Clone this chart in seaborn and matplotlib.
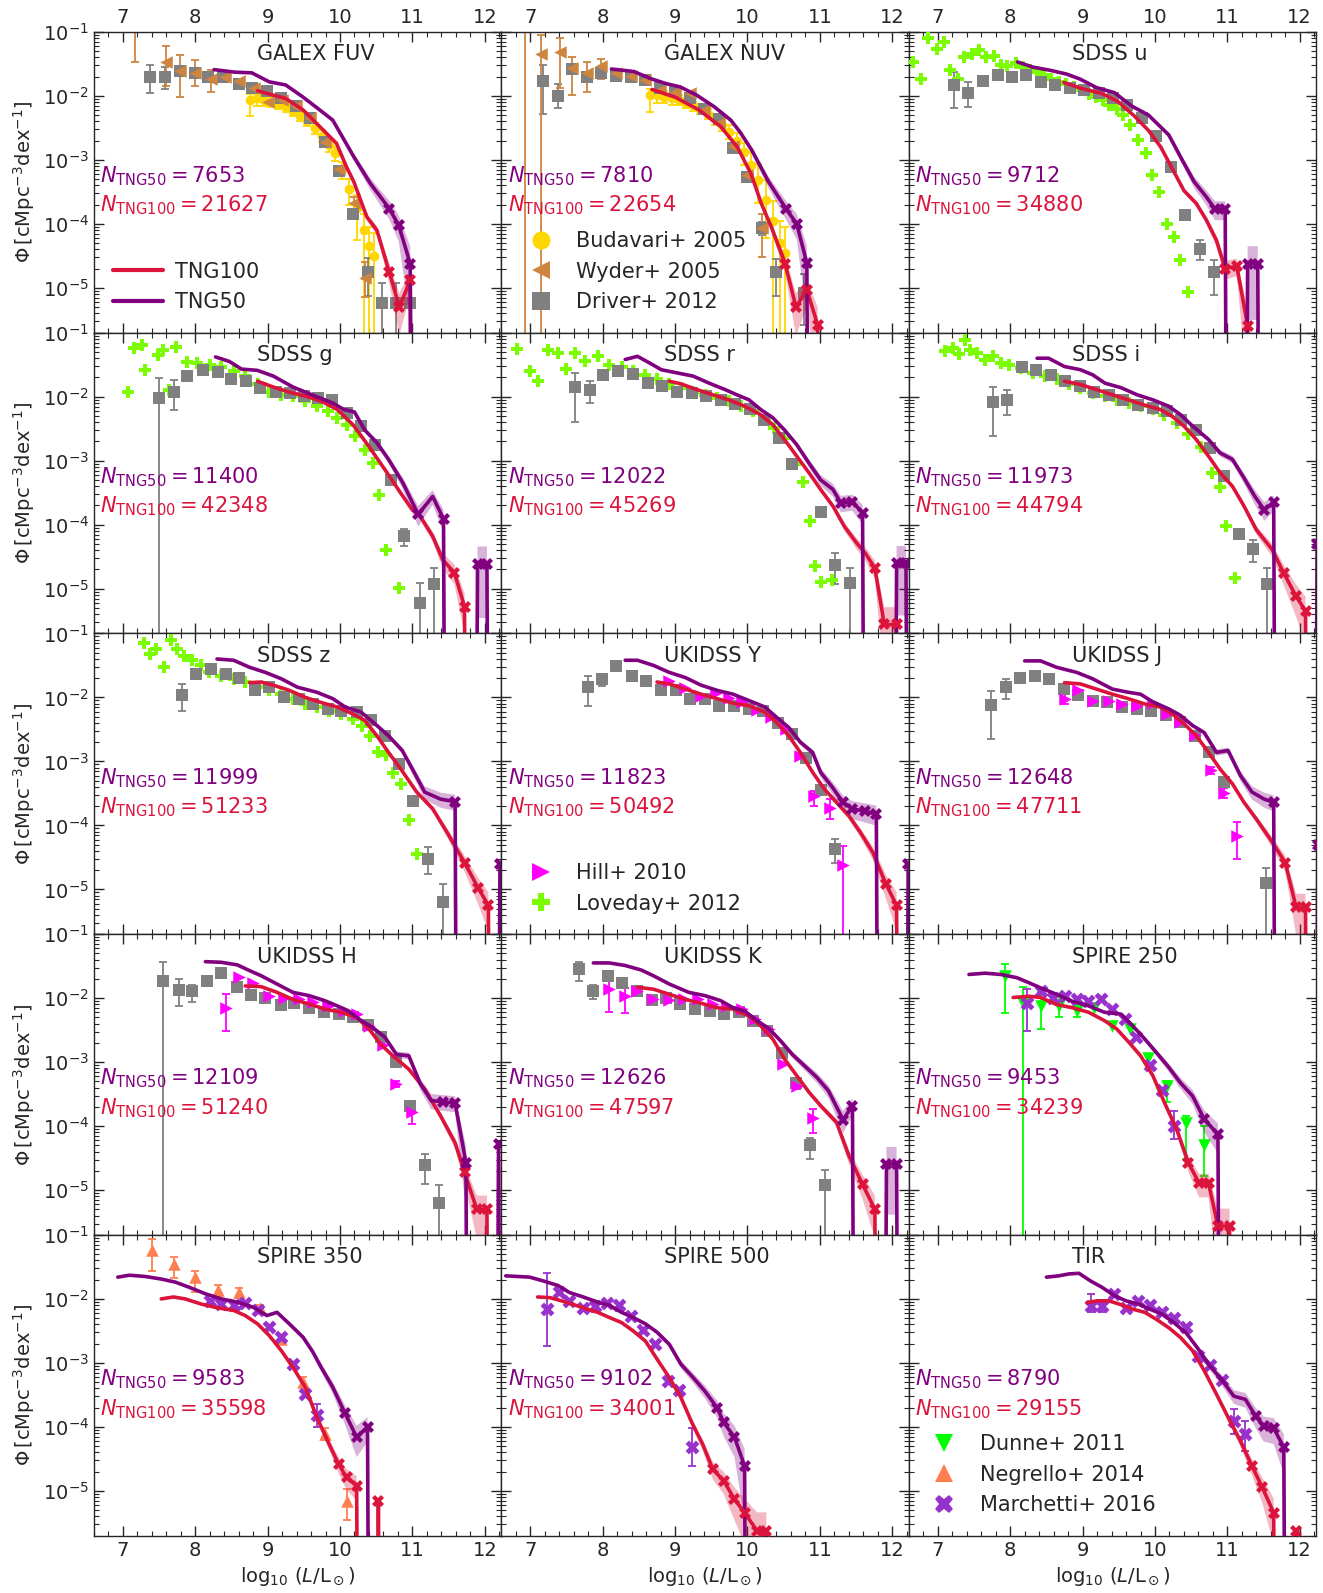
import numpy as np
import matplotlib
matplotlib.use("Agg")
import matplotlib.pyplot as plt
from matplotlib.lines import Line2D
from matplotlib.ticker import LogLocator, MultipleLocator, NullFormatter
import seaborn as sns

sns.set_style("ticks")
plt.rcParams["font.family"] = ["DejaVu Sans"]
plt.rcParams["mathtext.fontset"] = "dejavusans"

# ---------------- data (log10 Phi, None = empty bin) ----------------
bands = ["GALEX FUV", "GALEX NUV", "SDSS u", "SDSS g", "SDSS r", "SDSS i",
         "SDSS z", "UKIDSS Y", "UKIDSS J", "UKIDSS H", "UKIDSS K", "SPIRE 250",
         "SPIRE 350", "SPIRE 500", "TIR"]
n_tng50 = [7653, 7810, 9712, 11400, 12022, 11973, 11999, 11823, 12648, 12109,
           12626, 9453, 9583, 9102, 8790]
n_tng100 = [21627, 22654, 34880, 42348, 45269, 44794, 51233, 50492, 47711, 51240,
            47597, 34239, 35598, 34001, 29155]

fuv50_x = [8.26, 8.55, 8.78, 9.02, 9.25, 9.49, 9.72, 9.9, 10.19, 10.42, 10.68, 10.81, 10.97, 11.12]
fuv50 = [-1.59, -1.63, -1.64, -1.78, -1.83, -2.02, -2.22, -2.38, -2.95, -3.37, -3.76, -4.02, -4.62, None]
fuv100_x = [8.86, 9.05, 9.25, 9.49, 9.72, 9.95, 10.09, 10.19, 10.37, 10.51, 10.68, 10.82, 10.97, 11.12]
fuv100 = [-1.92, -1.98, -2.04, -2.22, -2.48, -2.74, -3.11, -3.34, -3.89, -4.1, -4.75, -5.3, -4.88, None]

nuv50_x = [8.12, 8.43, 8.66, 8.88, 9.07, 9.3, 9.54, 9.77, 9.9, 10.06, 10.29, 10.53, 10.68, 10.82, 10.97]
nuv50 = [-1.58, -1.62, -1.73, -1.81, -1.86, -1.99, -2.17, -2.38, -2.57, -2.85, -3.34, -3.76, -4.0, -4.61, None]
nuv100_x = [8.68, 9.0, 9.33, 9.63, 9.86, 10.05, 10.19, 10.33, 10.52, 10.67, 10.82, 10.97, 11.12]
nuv100 = [-1.9, -2.02, -2.22, -2.48, -2.8, -3.22, -3.68, -4.05, -4.62, -5.3, -5.03, -5.58, None]

u50_x = [8.1, 8.31, 8.55, 8.78, 8.97, 9.19, 9.44, 9.68, 9.91, 10.19, 10.38, 10.54, 10.71, 10.83, 10.97, 11.12, 11.28, 11.42, 11.57]
u50 = [-1.47, -1.55, -1.6, -1.66, -1.74, -1.87, -1.95, -2.16, -2.3, -2.61, -3.01, -3.34, -3.58, -3.77, -3.77, None, -4.62, -4.62, None]
u100_x = [8.74, 9.0, 9.26, 9.49, 9.72, 9.91, 10.08, 10.24, 10.4, 10.57, 10.71, 10.85, 10.97, 11.13, 11.28, 11.43]
u100 = [-1.79, -1.89, -1.96, -2.09, -2.32, -2.54, -2.8, -3.14, -3.48, -3.68, -3.94, -4.26, -4.7, -4.66, -5.59, None]

g50_x = [8.28, 8.47, 8.64, 8.86, 9.08, 9.35, 9.63, 9.9, 10.05, 10.2, 10.34, 10.51, 10.67, 10.87, 11.08, 11.28, 11.43, 11.58, 11.73, 11.9, 12.03, 12.18]
g50 = [-1.38, -1.45, -1.57, -1.59, -1.68, -1.85, -1.98, -2.1, -2.2, -2.24, -2.52, -2.72, -2.98, -3.35, -3.84, -3.56, -3.91, None, None, -4.61, -4.61, None]
g100_x = [8.86, 9.08, 9.3, 9.52, 9.74, 9.96, 10.18, 10.4, 10.62, 10.84, 11.0, 11.08, 11.28, 11.42, 11.58, 11.72, 11.87]
g100 = [-1.76, -1.85, -1.93, -1.99, -2.07, -2.2, -2.44, -2.78, -3.14, -3.51, -3.77, -3.82, -4.18, -4.55, -4.75, -5.28, None]

r50_x = [8.31, 8.48, 8.64, 8.81, 9.03, 9.25, 9.47, 9.69, 9.85, 10.02, 10.18, 10.35, 10.51, 10.68, 10.85, 11.01, 11.18, 11.29, 11.45, 11.59, 11.74, 11.9, 12.06, 12.19, 12.34]
r50 = [-1.42, -1.37, -1.47, -1.58, -1.63, -1.68, -1.79, -1.89, -1.97, -2.05, -2.2, -2.33, -2.52, -2.75, -3.04, -3.3, -3.45, -3.66, -3.64, -3.82, None, None, -4.6, -4.6, None]
r100_x = [8.92, 9.08, 9.3, 9.52, 9.74, 9.96, 10.18, 10.35, 10.51, 10.68, 10.85, 11.01, 11.18, 11.34, 11.51, 11.63, 11.76, 11.89, 12.06, 12.2]
r100 = [-1.76, -1.8, -1.89, -1.97, -2.05, -2.15, -2.28, -2.44, -2.67, -2.93, -3.19, -3.45, -3.71, -4.03, -4.29, -4.45, -4.68, -5.56, -5.56, None]

i50_x = [8.37, 8.53, 8.75, 8.97, 9.14, 9.31, 9.53, 9.75, 9.97, 10.19, 10.35, 10.52, 10.74, 10.9, 11.07, 11.23, 11.38, 11.51, 11.64, 11.79, 11.94, 12.09, 12.24]
i50 = [-1.4, -1.4, -1.53, -1.58, -1.66, -1.79, -1.86, -1.97, -2.05, -2.15, -2.28, -2.46, -2.67, -2.88, -2.98, -3.27, -3.56, -3.77, -3.65, None, None, None, -4.31]
i100_x = [8.75, 8.97, 9.19, 9.41, 9.63, 9.85, 10.07, 10.24, 10.4, 10.57, 10.74, 10.9, 11.07, 11.23, 11.4, 11.62, 11.78, 11.95, 12.08, 12.22]
i100 = [-1.76, -1.81, -1.89, -1.97, -2.05, -2.13, -2.2, -2.31, -2.46, -2.67, -2.93, -3.19, -3.4, -3.71, -4.08, -4.39, -4.76, -5.12, -5.35, None]

z50_x = [8.3, 8.53, 8.75, 8.97, 9.19, 9.41, 9.68, 9.9, 10.07, 10.29, 10.51, 10.67, 10.86, 11.0, 11.17, 11.39, 11.59, 11.74, 11.89, 12.04, 12.21]
z50 = [-1.4, -1.42, -1.53, -1.61, -1.71, -1.84, -1.92, -2.02, -2.15, -2.23, -2.44, -2.6, -2.83, -3.12, -3.48, -3.59, -3.63, None, None, None, -4.6]
z100_x = [8.75, 8.91, 9.08, 9.3, 9.52, 9.74, 9.96, 10.18, 10.34, 10.51, 10.67, 10.84, 11.06, 11.28, 11.48, 11.72, 11.91, 12.05, 12.2]
z100 = [-1.77, -1.76, -1.81, -1.89, -2.0, -2.08, -2.15, -2.26, -2.36, -2.6, -2.86, -3.12, -3.48, -3.74, -4.11, -4.58, -4.98, -5.25, None]

y50_x = [8.31, 8.48, 8.7, 8.92, 9.14, 9.36, 9.58, 9.8, 10.02, 10.24, 10.4, 10.57, 10.73, 10.9, 11.01, 11.17, 11.32, 11.45, 11.62, 11.78, 11.93, 12.08, 12.22]
y50 = [-1.42, -1.42, -1.5, -1.61, -1.69, -1.81, -1.89, -1.95, -2.05, -2.15, -2.31, -2.47, -2.7, -2.86, -3.17, -3.4, -3.64, -3.74, -3.78, -3.82, None, None, -4.6]
y100_x = [8.75, 8.92, 9.14, 9.36, 9.58, 9.8, 10.02, 10.24, 10.4, 10.57, 10.73, 10.9, 11.06, 11.23, 11.4, 11.56, 11.73, 11.91, 12.06, 12.2]
y100 = [-1.76, -1.79, -1.87, -1.95, -2.02, -2.09, -2.13, -2.23, -2.39, -2.6, -2.86, -3.17, -3.43, -3.64, -3.85, -4.11, -4.42, -4.91, -5.25, None]

j50_x = [8.2, 8.42, 8.64, 8.92, 9.14, 9.41, 9.63, 9.8, 9.97, 10.19, 10.35, 10.52, 10.68, 10.85, 11.01, 11.18, 11.34, 11.51, 11.64, 11.79, 11.94, 12.09, 12.25]
j50 = [-1.43, -1.43, -1.53, -1.61, -1.71, -1.87, -1.92, -1.95, -2.07, -2.18, -2.28, -2.44, -2.55, -2.86, -2.83, -3.22, -3.48, -3.59, -3.64, None, None, None, -4.3]
j100_x = [8.75, 8.97, 9.19, 9.41, 9.63, 9.85, 10.07, 10.24, 10.4, 10.57, 10.74, 10.9, 11.07, 11.23, 11.4, 11.62, 11.8, 11.95, 12.08, 12.22]
j100 = [-1.77, -1.79, -1.87, -1.95, -2.02, -2.1, -2.15, -2.26, -2.41, -2.6, -2.86, -3.12, -3.35, -3.64, -3.9, -4.26, -4.58, -5.28, -5.28, None]

h50_x = [8.14, 8.36, 8.58, 8.75, 8.91, 9.13, 9.35, 9.57, 9.79, 9.96, 10.12, 10.29, 10.45, 10.62, 10.78, 10.95, 11.11, 11.26, 11.42, 11.59, 11.74, 11.89, 12.04, 12.19, 12.34]
h50 = [-1.43, -1.44, -1.48, -1.57, -1.65, -1.78, -1.91, -1.96, -2.04, -2.12, -2.2, -2.35, -2.46, -2.61, -2.88, -2.9, -3.34, -3.6, -3.62, -3.64, -4.57, None, None, -4.28, None]
h100_x = [8.69, 8.91, 9.13, 9.35, 9.57, 9.79, 10.01, 10.23, 10.4, 10.56, 10.73, 10.95, 11.17, 11.39, 11.59, 11.72, 11.89, 12.03, 12.18]
h100 = [-1.81, -1.82, -1.91, -2.02, -2.09, -2.17, -2.22, -2.3, -2.48, -2.72, -2.9, -3.11, -3.42, -3.84, -4.26, -4.72, -5.3, -5.3, None]

k50_x = [7.87, 8.09, 8.31, 8.53, 8.7, 8.92, 9.19, 9.41, 9.63, 9.8, 9.96, 10.13, 10.3, 10.46, 10.62, 10.79, 10.96, 11.12, 11.32, 11.45, 11.6, 11.76, 11.92, 12.06, 12.21]
k50 = [-1.45, -1.45, -1.49, -1.56, -1.65, -1.78, -1.91, -1.96, -2.04, -2.15, -2.2, -2.35, -2.48, -2.67, -2.88, -3.06, -3.24, -3.45, -3.9, -3.68, None, None, -4.59, -4.59, None]
k100_x = [8.48, 8.7, 8.92, 9.14, 9.36, 9.58, 9.8, 10.02, 10.18, 10.35, 10.51, 10.68, 10.85, 11.01, 11.23, 11.4, 11.59, 11.76, 11.92]
k100 = [-1.83, -1.86, -1.94, -2.02, -2.08, -2.15, -2.17, -2.28, -2.43, -2.64, -2.95, -3.21, -3.47, -3.68, -3.94, -4.46, -4.91, -5.3, None]

s250_50_x = [7.43, 7.65, 7.87, 8.09, 8.26, 8.42, 8.64, 8.86, 9.08, 9.3, 9.53, 9.69, 9.86, 10.02, 10.19, 10.35, 10.52, 10.68, 10.87, 11.02]
s250_50 = [-1.63, -1.61, -1.63, -1.68, -1.76, -1.84, -1.94, -2.05, -2.12, -2.22, -2.25, -2.43, -2.64, -2.85, -3.08, -3.32, -3.53, -3.89, -4.13, None]
s250_100_x = [8.04, 8.26, 8.42, 8.64, 8.86, 9.08, 9.3, 9.47, 9.64, 9.8, 9.97, 10.13, 10.3, 10.46, 10.61, 10.74, 10.87, 11.03, 11.18]
s250_100 = [-1.99, -1.97, -1.99, -2.1, -2.15, -2.22, -2.35, -2.48, -2.69, -2.9, -3.21, -3.63, -4.05, -4.57, -4.89, -4.89, -5.56, -5.56, None]

s350_50_x = [6.93, 7.09, 7.31, 7.53, 7.73, 7.92, 8.14, 8.36, 8.58, 8.8, 8.99, 9.13, 9.3, 9.49, 9.62, 9.74, 9.9, 10.07, 10.23, 10.38, 10.53]
s350_50 = [-1.66, -1.63, -1.65, -1.69, -1.74, -1.82, -1.92, -2.0, -2.05, -2.13, -2.26, -2.21, -2.39, -2.6, -2.82, -3.07, -3.38, -3.79, -4.16, -4.0, None]
s350_100_x = [7.53, 7.7, 7.86, 8.08, 8.31, 8.53, 8.69, 8.86, 9.02, 9.19, 9.35, 9.52, 9.68, 9.85, 9.98, 10.09, 10.23, 10.38, 10.53, 10.68]
s350_100 = [-2.0, -1.97, -2.0, -2.08, -2.14, -2.18, -2.26, -2.39, -2.57, -2.81, -3.07, -3.38, -3.85, -4.27, -4.58, -4.79, -4.92, None, -5.15, None]

s500_50_x = [6.66, 6.83, 6.99, 7.18, 7.38, 7.54, 7.73, 7.93, 8.09, 8.26, 8.42, 8.59, 8.75, 8.92, 9.08, 9.25, 9.41, 9.58, 9.67, 9.82, 9.96, 10.11]
s500_50 = [-1.64, -1.65, -1.66, -1.72, -1.79, -1.9, -1.97, -2.05, -2.1, -2.21, -2.29, -2.39, -2.52, -2.71, -3.02, -3.23, -3.44, -3.7, -3.93, -4.16, -4.61, None]
s500_100_x = [7.1, 7.27, 7.43, 7.6, 7.76, 7.93, 8.09, 8.26, 8.42, 8.59, 8.75, 8.92, 9.08, 9.23, 9.38, 9.52, 9.67, 9.82, 9.96, 10.13, 10.26, 10.41]
s500_100 = [-1.97, -1.98, -2.03, -2.09, -2.15, -2.21, -2.29, -2.37, -2.5, -2.66, -2.94, -3.23, -3.54, -3.93, -4.27, -4.66, -4.84, -5.13, -5.34, -5.62, -5.62, None]

tir50_x = [8.5, 8.67, 8.81, 8.95, 9.11, 9.27, 9.44, 9.6, 9.77, 9.93, 10.1, 10.26, 10.43, 10.59, 10.76, 10.92, 11.09, 11.25, 11.39, 11.5, 11.64, 11.78, 11.93]
tir50 = [-1.66, -1.64, -1.61, -1.6, -1.72, -1.82, -1.95, -2.03, -2.08, -2.16, -2.24, -2.37, -2.53, -2.77, -3.05, -3.26, -3.52, -3.57, -3.83, -3.99, -4.02, -4.32, None]
tir100_x = [9.06, 9.2, 9.36, 9.53, 9.69, 9.86, 10.02, 10.19, 10.35, 10.52, 10.68, 10.85, 11.01, 11.18, 11.34, 11.48, 11.64, 11.79, 11.95, 12.1]
tir100 = [-2.06, -2.03, -2.03, -2.09, -2.16, -2.21, -2.32, -2.45, -2.6, -2.81, -3.12, -3.49, -3.85, -4.22, -4.61, -4.94, -5.34, None, -5.63, None]

# observations: (log L, log Phi, err down [dex], err up [dex])
fuv_budavari = [(8.76, -2.07, 0.25, 0.1), (8.85, -2.04, 0.12, 0.08), (8.95, -2.06, 0.1, 0.08), (9.05, -2.1, 0.08, 0.08),
                (9.15, -2.12, 0.08, 0.07), (9.25, -2.17, 0.08, 0.06), (9.35, -2.24, 0.08, 0.06), (9.45, -2.31, 0.08, 0.06),
                (9.55, -2.39, 0.08, 0.07), (9.65, -2.5, 0.1, 0.08), (9.75, -2.62, 0.1, 0.09), (9.85, -2.76, 0.12, 0.1),
                (9.93, -2.9, 0.12, 0.1), (10.03, -3.15, 0.15, 0.12), (10.13, -3.45, 0.25, 0.15), (10.23, -3.75, 0.5, 0.2),
                (10.33, -4.1, 9, 0.25), (10.4, -4.35, 9, 0.3), (10.47, -4.5, 9, 0.35)]
fuv_wyder = [(7.17, -0.7, 0.77, 0.5), (7.6, -1.47, 0.37, 0.25), (7.79, -1.61, 0.4, 0.25), (7.99, -1.64, 0.2, 0.2),
             (8.22, -1.74, 0.2, 0.15), (8.41, -1.71, 0.05, 0.05), (8.61, -1.76, 0, 0), (8.81, -1.87, 0, 0),
             (9.0, -2.09, 0, 0), (9.2, -2.07, 0, 0), (9.39, -2.16, 0, 0), (9.59, -2.35, 0, 0), (9.79, -2.72, 0, 0),
             (9.99, -3.14, 0, 0), (10.19, -3.68, 0.1, 0.1), (10.35, -4.85, 0.3, 0.25)]
fuv_driver = [(7.38, -1.71, 0.25, 0.2), (7.58, -1.70, 0.2, 0.15), (7.79, -1.61, 0.05, 0.05), (7.99, -1.64, 0, 0),
              (8.18, -1.70, 0, 0), (8.39, -1.71, 0, 0), (8.6, -1.82, 0, 0), (8.79, -1.87, 0, 0), (8.99, -1.92, 0, 0),
              (9.19, -2.03, 0, 0), (9.39, -2.16, 0, 0), (9.58, -2.35, 0, 0), (9.79, -2.72, 0, 0), (9.99, -3.17, 0, 0),
              (10.18, -3.84, 0.05, 0.05), (10.38, -4.75, 0.38, 0.21), (10.58, -5.23, 9, 0.3), (10.78, -5.23, 9, 0.3),
              (10.97, -5.23, 9, 0.3)]

nuv_budavari = [(8.65, -1.99, 0.26, 0.1), (8.75, -1.99, 0.12, 0.08), (8.85, -2.01, 0.1, 0.08), (8.95, -2.04, 0.1, 0.08),
                (9.05, -2.07, 0.08, 0.08), (9.15, -2.11, 0.08, 0.07), (9.25, -2.15, 0.08, 0.06), (9.35, -2.21, 0.08, 0.06),
                (9.45, -2.28, 0.08, 0.07), (9.55, -2.36, 0.1, 0.08), (9.65, -2.45, 0.1, 0.09), (9.75, -2.56, 0.12, 0.1),
                (9.85, -2.7, 0.15, 0.12), (9.95, -2.88, 0.2, 0.15), (10.05, -3.08, 0.25, 0.2), (10.15, -3.32, 0.35, 0.25),
                (10.25, -3.62, 0.6, 0.3), (10.35, -3.95, 9, 0.3), (10.45, -4.3, 9, 0.35), (10.52, -4.45, 9, 0.4)]
nuv_wyder = [(6.92, -0.8, 9, 0.5), (7.15, -1.35, 9, 0.3), (7.41, -1.31, 0.56, 0.22), (7.58, -1.57, 0.42, 0.18),
             (7.78, -1.64, 0.3, 0.17), (7.98, -1.54, 0.19, 0.11), (8.19, -1.65, 0, 0), (8.39, -1.69, 0, 0),
             (8.59, -1.75, 0, 0), (8.79, -1.91, 0, 0), (9.0, -1.94, 0, 0), (9.2, -1.96, 0, 0), (9.4, -2.22, 0, 0),
             (9.6, -2.43, 0, 0), (9.8, -2.79, 0, 0), (10.0, -3.24, 0, 0), (10.2, -4.07, 0.44, 0.23)]
nuv_driver = [(7.17, -1.76, 0.53, 0.24), (7.38, -2.0, 0.19, 0.19), (7.58, -1.58, 0, 0), (7.78, -1.70, 0, 0),
              (7.98, -1.65, 0, 0), (8.19, -1.69, 0, 0), (8.39, -1.71, 0, 0), (8.59, -1.75, 0, 0), (8.79, -1.87, 0, 0),
              (9.0, -1.92, 0, 0), (9.2, -2.04, 0, 0), (9.4, -2.2, 0, 0), (9.6, -2.36, 0, 0), (9.8, -2.81, 0, 0),
              (10.0, -3.26, 0, 0), (10.2, -4.07, 0.1, 0.1), (10.4, -4.75, 0.38, 0.2), (10.78, -5.08, 0.5, 0.3)]

u_loveday = [(6.66, -1.47), (6.77, -1.74), (6.86, -1.09), (6.99, -1.26), (7.08, -1.16), (7.17, -1.6), (7.28, -1.74),
             (7.36, -1.39), (7.47, -1.35), (7.57, -1.29), (7.67, -1.4), (7.78, -1.38), (7.87, -1.52), (7.96, -1.53),
             (8.08, -1.49), (8.17, -1.55), (8.27, -1.6), (8.37, -1.62), (8.47, -1.68), (8.56, -1.73), (8.67, -1.78),
             (8.77, -1.81), (8.88, -1.86), (8.99, -1.91), (9.09, -1.97), (9.19, -2.01), (9.28, -2.07), (9.37, -2.15),
             (9.47, -2.21), (9.56, -2.3), (9.66, -2.46), (9.77, -2.69), (9.87, -2.9), (9.96, -3.24), (10.06, -3.5),
             (10.16, -4.0), (10.26, -4.21), (10.35, -4.56), (10.46, -5.07)]
u_driver = [(7.23, -1.83, 0.36, 0.21), (7.42, -1.95, 0.22, 0.17), (7.63, -1.76, 0, 0), (7.83, -1.68, 0, 0),
            (8.02, -1.71, 0, 0), (8.22, -1.68, 0, 0), (8.42, -1.78, 0, 0), (8.62, -1.83, 0, 0), (8.83, -1.88, 0, 0),
            (9.02, -1.91, 0, 0), (9.22, -1.96, 0, 0), (9.42, -2.03, 0, 0), (9.62, -2.14, 0, 0), (9.82, -2.34, 0, 0),
            (10.02, -2.63, 0, 0), (10.22, -3.11, 0, 0), (10.42, -3.86, 0.05, 0.05), (10.62, -4.39, 0.18, 0.14),
            (10.82, -4.75, 0.36, 0.19)]

g_loveday = [(7.07, -1.93), (7.15, -1.24), (7.26, -1.19), (7.31, -1.58), (7.48, -1.35), (7.56, -1.27), (7.64, -1.89),
             (7.73, -1.22), (7.89, -1.46), (8.03, -1.47), (8.2, -1.5), (8.36, -1.53), (8.53, -1.6), (8.69, -1.68),
             (8.86, -1.81), (9.02, -1.92), (9.19, -1.97), (9.35, -1.99), (9.52, -2.07), (9.68, -2.15), (9.83, -2.23),
             (9.96, -2.33), (10.09, -2.44), (10.21, -2.62), (10.34, -2.83), (10.45, -3.04), (10.54, -3.53),
             (10.64, -4.39), (10.81, -4.99)]
g_driver = [(7.5, -2.02, 9, 0.31), (7.7, -1.92, 0.29, 0.18), (7.89, -1.68, 0, 0), (8.11, -1.59, 0, 0),
            (8.31, -1.62, 0, 0), (8.5, -1.73, 0, 0), (8.7, -1.76, 0, 0), (8.9, -1.86, 0, 0), (9.11, -1.92, 0, 0),
            (9.31, -1.95, 0, 0), (9.5, -1.99, 0, 0), (9.69, -2.02, 0, 0), (9.89, -2.06, 0, 0), (10.09, -2.26, 0, 0),
            (10.29, -2.46, 0, 0), (10.49, -2.75, 0, 0), (10.7, -3.3, 0, 0), (10.89, -4.18, 0.16, 0.11),
            (11.1, -5.22, 9, 0.31), (11.3, -4.92, 9, 0.24)]

r_loveday = [(6.82, -1.26), (6.99, -1.6), (7.1, -1.76), (7.24, -1.27), (7.38, -1.32), (7.49, -1.57), (7.62, -1.32),
             (7.76, -1.45), (7.93, -1.37), (8.09, -1.5), (8.26, -1.53), (8.42, -1.6), (8.59, -1.66), (8.75, -1.73),
             (8.92, -1.81), (9.08, -1.86), (9.25, -1.92), (9.41, -1.97), (9.58, -2.02), (9.74, -2.07), (9.91, -2.15),
             (10.07, -2.23), (10.24, -2.36), (10.37, -2.49), (10.51, -2.65), (10.65, -3.05), (10.76, -3.33),
             (10.87, -3.95), (10.93, -4.64), (11.01, -4.9), (11.17, -4.87)]
r_driver = [(7.62, -1.85, 0.54, 0.22), (7.82, -1.9, 0.2, 0.14), (8.01, -1.66, 0, 0), (8.21, -1.6, 0, 0),
            (8.42, -1.64, 0, 0), (8.62, -1.78, 0, 0), (8.82, -1.83, 0, 0), (9.03, -1.92, 0, 0), (9.23, -1.94, 0, 0),
            (9.42, -1.99, 0, 0), (9.63, -2.05, 0, 0), (9.83, -2.11, 0, 0), (10.03, -2.2, 0, 0), (10.23, -2.37, 0, 0),
            (10.43, -2.65, 0, 0), (10.62, -3.05, 0, 0), (11.01, -3.8, 0, 0), (11.21, -4.63, 0.29, 0.18),
            (11.42, -4.91, 9, 0.23)]

i_loveday = [(7.1, -1.29), (7.21, -1.24), (7.29, -1.34), (7.38, -1.11), (7.45, -1.27), (7.54, -1.32), (7.65, -1.42),
             (7.76, -1.37), (7.87, -1.47), (7.98, -1.5), (8.15, -1.55), (8.31, -1.63), (8.48, -1.68), (8.64, -1.73),
             (8.81, -1.81), (8.97, -1.86), (9.14, -1.94), (9.31, -1.99), (9.47, -2.05), (9.64, -2.1), (9.8, -2.15),
             (9.97, -2.2), (10.13, -2.28), (10.3, -2.41), (10.46, -2.59), (10.63, -2.78), (10.79, -3.19),
             (10.9, -3.41), (10.98, -4.02), (11.1, -4.83)]
i_driver = [(7.76, -2.09, 0.53, 0.24), (7.96, -2.05, 0.23, 0.15), (8.16, -1.54, 0, 0), (8.36, -1.58, 0, 0),
            (8.56, -1.66, 0, 0), (8.75, -1.76, 0, 0), (8.96, -1.84, 0, 0), (9.16, -1.92, 0, 0), (9.36, -1.97, 0, 0),
            (9.56, -2.05, 0, 0), (9.76, -2.13, 0, 0), (9.97, -2.18, 0, 0), (10.16, -2.23, 0, 0), (10.36, -2.36, 0, 0),
            (10.56, -2.52, 0, 0), (10.76, -2.8, 0, 0), (10.96, -3.24, 0, 0), (11.16, -4.14, 0.07, 0.07),
            (11.35, -4.38, 0.2, 0.14), (11.55, -4.92, 9, 0.24)]

z_loveday = [(7.29, -1.15), (7.37, -1.32), (7.46, -1.25), (7.57, -1.53), (7.67, -1.11), (7.75, -1.24), (7.84, -1.35),
             (7.95, -1.41), (8.08, -1.5), (8.19, -1.61), (8.36, -1.66), (8.53, -1.71), (8.69, -1.76), (8.86, -1.84),
             (9.02, -1.89), (9.19, -1.95), (9.35, -2.02), (9.52, -2.1), (9.68, -2.15), (9.85, -2.21), (10.01, -2.26),
             (10.18, -2.34), (10.31, -2.44), (10.42, -2.6), (10.53, -2.86), (10.64, -2.9), (10.73, -3.18),
             (10.84, -3.35), (10.95, -3.91), (11.06, -4.45)]
z_driver = [(7.81, -1.96, 0.25, 0.17), (8.01, -1.63, 0, 0), (8.22, -1.55, 0, 0), (8.42, -1.63, 0, 0),
            (8.61, -1.7, 0, 0), (8.82, -1.88, 0, 0), (9.02, -1.84, 0, 0), (9.22, -2.0, 0, 0), (9.43, -2.02, 0, 0),
            (9.63, -2.1, 0, 0), (9.83, -2.18, 0, 0), (10.02, -2.21, 0, 0), (10.23, -2.23, 0, 0), (10.43, -2.36, 0, 0),
            (10.62, -2.6, 0, 0), (10.82, -3.04, 0, 0), (11.01, -3.62, 0, 0), (11.22, -4.52, 0.24, 0.18),
            (11.42, -5.2, 9, 0.29)]

y_driver = [(7.8, -1.83, 0.3, 0.17), (7.99, -1.72, 0.1, 0.06), (8.19, -1.51, 0, 0), (8.4, -1.66, 0, 0),
            (8.6, -1.75, 0, 0), (8.81, -1.89, 0, 0), (9.01, -1.89, 0, 0), (9.2, -2.02, 0, 0), (9.41, -2.03, 0, 0),
            (9.61, -2.13, 0, 0), (9.81, -2.14, 0, 0), (10.02, -2.18, 0, 0), (10.22, -2.21, 0, 0), (10.42, -2.4, 0, 0),
            (10.61, -2.57, 0, 0), (10.81, -2.95, 0, 0), (11.01, -3.44, 0, 0), (11.21, -4.37, 0.21, 0.15)]
y_hill = [(8.92, -1.74, 0, 0), (9.14, -1.85, 0, 0), (9.36, -1.98, 0, 0), (9.56, -1.93, 0, 0), (9.74, -2.01, 0, 0),
          (9.93, -2.07, 0, 0), (10.13, -2.2, 0, 0), (10.33, -2.3, 0, 0), (10.53, -2.49, 0, 0), (10.73, -2.91, 0, 0),
          (10.92, -3.54, 0.15, 0.08), (11.14, -3.73, 0.17, 0.15), (11.32, -4.62, 9, 0.3)]

j_driver = [(7.74, -2.12, 0.53, 0.22), (7.94, -1.83, 0.2, 0.11), (8.14, -1.69, 0, 0), (8.34, -1.66, 0, 0),
            (8.53, -1.71, 0, 0), (8.74, -1.87, 0, 0), (8.94, -1.97, 0, 0), (9.14, -2.05, 0, 0), (9.34, -2.07, 0, 0),
            (9.55, -2.15, 0, 0), (9.75, -2.18, 0, 0), (9.94, -2.22, 0, 0), (10.15, -2.27, 0, 0), (10.35, -2.38, 0, 0),
            (10.55, -2.6, 0, 0), (10.75, -2.85, 0, 0), (10.95, -3.32, 0, 0), (11.54, -4.9, 9, 0.23)]
j_hill = [(8.75, -2.02, 0.08, 0.08), (8.94, -1.89, 0, 0), (9.14, -2.06, 0.06, 0.06), (9.36, -2.05, 0, 0),
          (9.55, -2.1, 0, 0), (9.75, -2.13, 0, 0), (9.97, -2.09, 0, 0), (10.16, -2.26, 0, 0), (10.35, -2.38, 0, 0),
          (10.55, -2.59, 0, 0), (10.77, -3.14, 0.05, 0.05), (10.96, -3.49, 0.08, 0.08), (11.14, -4.17, 0.35, 0.22)]

h_driver = [(7.56, -1.74, 9, 0.31), (7.78, -1.87, 0.26, 0.17), (7.95, -1.89, 0.17, 0.1), (8.16, -1.73, 0, 0),
            (8.36, -1.61, 0, 0), (8.57, -1.83, 0, 0), (8.77, -1.95, 0, 0), (8.97, -1.99, 0, 0), (9.18, -2.11, 0, 0),
            (9.37, -2.07, 0, 0), (9.57, -2.16, 0, 0), (9.78, -2.21, 0, 0), (9.98, -2.25, 0, 0), (10.18, -2.29, 0, 0),
            (10.38, -2.42, 0, 0), (10.57, -2.6, 0, 0), (10.77, -2.99, 0, 0), (10.97, -3.68, 0, 0),
            (11.17, -4.61, 0.3, 0.17), (11.37, -5.2, 9, 0.28)]
h_hill = [(8.42, -2.15, 0.36, 0.22), (8.61, -1.67, 0, 0), (8.8, -1.76, 0, 0), (9.02, -1.96, 0, 0), (9.22, -1.99, 0, 0),
          (9.43, -2.02, 0, 0), (9.63, -2.06, 0, 0), (9.83, -2.12, 0, 0), (10.05, -2.2, 0, 0), (10.23, -2.25, 0, 0),
          (10.4, -2.43, 0, 0), (10.6, -2.73, 0, 0), (10.78, -3.34, 0.05, 0.05), (11.0, -3.78, 0.19, 0.09)]

k_driver = [(7.67, -1.55, 0.18, 0.11), (7.87, -1.89, 0.13, 0.1), (8.07, -1.65, 0, 0), (8.27, -1.76, 0, 0),
            (8.48, -1.89, 0, 0), (8.68, -2.03, 0, 0), (8.88, -1.99, 0, 0), (9.07, -2.09, 0, 0), (9.28, -2.17, 0, 0),
            (9.48, -2.2, 0, 0), (9.68, -2.25, 0, 0), (9.88, -2.22, 0, 0), (10.07, -2.35, 0, 0), (10.27, -2.51, 0, 0),
            (10.47, -2.86, 0, 0), (10.67, -3.33, 0, 0), (10.87, -4.3, 0.22, 0.12), (11.07, -4.92, 9, 0.23)]
k_hill = [(8.09, -1.86, 0.36, 0.15), (8.31, -1.97, 0.26, 0.13), (8.48, -1.89, 0, 0), (8.7, -2.02, 0, 0),
          (8.92, -2.03, 0, 0), (9.12, -2.01, 0, 0), (9.31, -2.02, 0, 0), (9.52, -2.09, 0, 0), (9.72, -2.13, 0, 0),
          (9.93, -2.17, 0, 0), (10.11, -2.32, 0, 0), (10.3, -2.48, 0, 0), (10.49, -3.03, 0, 0),
          (10.68, -3.37, 0.05, 0.05), (10.9, -3.88, 0.23, 0.15)]

s250_dunne = [(7.93, -1.65, 0.58, 0.18), (8.18, -2.07, 9, 0.24), (8.42, -2.13, 0.35, 0.22), (8.67, -2.13, 0.17, 0.17),
              (8.92, -2.2, 0.1, 0.16), (9.16, -2.15, 0, 0), (9.41, -2.43, 0, 0), (9.66, -2.48, 0, 0),
              (9.91, -2.93, 0, 0), (10.16, -3.37, 0.26, 0.08), (10.43, -3.95, 0.56, 0.11), (10.68, -4.3, 0.48, 0.3)]
s250_marchetti = [(8.23, -2.07, 0.45, 0.21), (8.42, -1.89, 0, 0), (8.59, -1.99, 0, 0), (8.75, -1.97, 0, 0),
                  (8.92, -2.02, 0, 0), (9.08, -2.05, 0, 0), (9.25, -2.02, 0, 0), (9.41, -2.17, 0, 0),
                  (9.58, -2.33, 0, 0), (9.74, -2.61, 0, 0), (9.93, -3.05, 0, 0), (10.1, -3.43, 0, 0),
                  (10.26, -3.99, 0.21, 0.23)]

s350_negrello = [(7.4, -1.24, 0.32, 0.18), (7.7, -1.46, 0.22, 0.12), (8.0, -1.66, 0.23, 0.1), (8.31, -1.86, 0.1, 0.08),
                 (8.6, -1.9, 0.08, 0.07), (8.89, -2.14, 0.1, 0.04), (9.19, -2.63, 0, 0), (9.49, -3.3, 0.08, 0.08),
                 (9.79, -4.11, 0.1, 0.1), (10.09, -5.15, 0.31, 0.18)]
s350_marchetti = [(8.2, -2.03, 0, 0), (8.36, -2.08, 0, 0), (8.53, -2.09, 0, 0), (8.69, -2.07, 0, 0),
                  (8.86, -2.18, 0, 0), (9.02, -2.44, 0, 0), (9.19, -2.6, 0, 0), (9.35, -3.02, 0, 0),
                  (9.52, -3.48, 0, 0), (9.68, -3.81, 0.19, 0.17)]

s500_marchetti = [(7.23, -2.16, 0.57, 0.57), (7.4, -1.9, 0, 0), (7.54, -2.03, 0, 0), (7.73, -2.15, 0, 0),
                  (7.89, -2.11, 0, 0), (8.06, -2.06, 0, 0), (8.22, -2.09, 0, 0), (8.39, -2.26, 0, 0),
                  (8.55, -2.49, 0, 0), (8.72, -2.7, 0, 0), (8.9, -3.28, 0, 0), (9.05, -3.43, 0, 0),
                  (9.23, -4.32, 0.29, 0.31)]

tir_marchetti = [(9.11, -2.11, 0.1, 0.18), (9.27, -2.11, 0.1, 0.1), (9.44, -1.93, 0, 0), (9.6, -2.15, 0, 0),
                 (9.77, -2.04, 0, 0), (9.93, -2.09, 0, 0), (10.1, -2.21, 0, 0), (10.26, -2.3, 0, 0),
                 (10.43, -2.44, 0, 0), (10.59, -2.89, 0, 0), (10.76, -3.03, 0, 0), (10.92, -3.26, 0, 0),
                 (11.09, -3.9, 0.21, 0.18), (11.25, -4.11, 0.26, 0.21)]

sims = [(fuv50_x, fuv50, fuv100_x, fuv100), (nuv50_x, nuv50, nuv100_x, nuv100), (u50_x, u50, u100_x, u100),
        (g50_x, g50, g100_x, g100), (r50_x, r50, r100_x, r100), (i50_x, i50, i100_x, i100),
        (z50_x, z50, z100_x, z100), (y50_x, y50, y100_x, y100), (j50_x, j50, j100_x, j100),
        (h50_x, h50, h100_x, h100), (k50_x, k50, k100_x, k100), (s250_50_x, s250_50, s250_100_x, s250_100),
        (s350_50_x, s350_50, s350_100_x, s350_100), (s500_50_x, s500_50, s500_100_x, s500_100),
        (tir50_x, tir50, tir100_x, tir100)]

observations = [
    [("budavari", fuv_budavari), ("driver", fuv_driver), ("wyder", fuv_wyder)],
    [("budavari", nuv_budavari), ("driver", nuv_driver), ("wyder", nuv_wyder)],
    [("loveday", u_loveday), ("driver", u_driver)],
    [("loveday", g_loveday), ("driver", g_driver)],
    [("loveday", r_loveday), ("driver", r_driver)],
    [("loveday", i_loveday), ("driver", i_driver)],
    [("loveday", z_loveday), ("driver", z_driver)],
    [("driver", y_driver), ("hill", y_hill)],
    [("driver", j_driver), ("hill", j_hill)],
    [("driver", h_driver), ("hill", h_hill)],
    [("driver", k_driver), ("hill", k_hill)],
    [("dunne", s250_dunne), ("marchetti", s250_marchetti)],
    [("negrello", s350_negrello), ("marchetti", s350_marchetti)],
    [("marchetti", s500_marchetti)],
    [("marchetti", tir_marchetti)],
]

# ---------------- styles ----------------
C100, C50 = "crimson", "purple"
VOL100, VOL50 = 106.5 ** 3, 51.7 ** 3      # cMpc^3
FLOOR = 1e-40
obs_style = {
    "budavari": ("gold", "o", 7, "Budavari+ 2005"),
    "wyder": ("peru", "<", 9, "Wyder+ 2005"),
    "driver": ("grey", "s", 8, "Driver+ 2012"),
    "loveday": ("lawngreen", "P", 9, "Loveday+ 2012"),
    "hill": ("magenta", ">", 9, "Hill+ 2010"),
    "dunne": ("lime", "v", 9, "Dunne+ 2011"),
    "negrello": ("coral", "^", 9, "Negrello+ 2014"),
    "marchetti": ("darkorchid", "X", 10, "Marchetti+ 2016"),
}


def draw_sim(ax, xs, lps, color, vol):
    x = np.asarray(xs, float)
    lp = np.array([np.nan if v is None else v for v in lps], float)
    empty = np.isnan(lp)
    phi = np.where(empty, FLOOR, 10.0 ** np.nan_to_num(lp))
    ngal = np.where(empty, 0.0, phi * vol * 0.15)
    s = np.where(empty, 0.0, 1.0 / np.sqrt(np.maximum(phi * vol * 0.4, 1e-30)))
    lo = np.where(empty, FLOOR, np.maximum(phi * (1 - s), FLOOR))
    hi = np.where(empty, FLOOR, phi * (1 + s))
    ax.fill_between(x, lo, hi, color=color, alpha=0.3, lw=0, zorder=4)
    sns.lineplot(x=x, y=phi, ax=ax, color=color, lw=2.6, sort=False, estimator=None, zorder=5)
    few = (~empty) & (ngal < 5)
    ax.plot(x[few], phi[few], ls="none", marker="X", ms=8, mew=0, color=color, zorder=6)


def draw_obs(ax, key, pts):
    color, marker, ms, _ = obs_style[key]
    arr = np.array([p if len(p) == 4 else (p[0], p[1], 0, 0) for p in pts], float)
    x, lp, elo, ehi = arr.T
    y = 10.0 ** lp
    m = (elo + ehi) > 0
    if m.any():
        ax.errorbar(x[m], y[m], yerr=[y[m] - 10.0 ** (lp[m] - elo[m]), 10.0 ** (lp[m] + ehi[m]) - y[m]],
                    fmt="none", ecolor=color, elinewidth=1.3, capsize=3, capthick=1.3, zorder=2)
    sns.scatterplot(x=x, y=y, ax=ax, marker=marker, color=color, s=ms ** 2, linewidth=0, zorder=3)


fig, axes = plt.subplots(5, 3, figsize=(13.23, 15.93), dpi=100, sharex=True, sharey=True)
fig.subplots_adjust(left=0.071, right=0.995, top=0.980, bottom=0.036, hspace=0, wspace=0)

for i, ax in enumerate(axes.flat):
    ax.set_yscale("log")
    for key, pts in observations[i]:
        draw_obs(ax, key, pts)
    x50, y50_, x100, y100_ = sims[i]
    draw_sim(ax, x100, y100_, C100, VOL100)
    draw_sim(ax, x50, y50_, C50, VOL50)

    ax.text(0.40, 0.925, bands[i], transform=ax.transAxes, fontsize=15, ha="left", va="center")
    ax.text(0.015, 0.52, r"$N_{\rm TNG50} = %d$" % n_tng50[i], color=C50, fontsize=15,
            transform=ax.transAxes, va="center")
    ax.text(0.015, 0.422, r"$N_{\rm TNG100} = %d$" % n_tng100[i], color=C100, fontsize=15,
            transform=ax.transAxes, va="center")

    ax.set_xlim(6.6, 12.23)
    ax.set_ylim(2e-6, 1e-1)
    ax.xaxis.set_major_locator(MultipleLocator(1))
    ax.xaxis.set_minor_locator(MultipleLocator(0.2))
    ax.yaxis.set_major_locator(LogLocator(base=10, numticks=10))
    ax.yaxis.set_minor_locator(LogLocator(base=10, subs=np.arange(2, 10), numticks=20))
    ax.yaxis.set_minor_formatter(NullFormatter())
    ax.tick_params(which="both", direction="in", top=True, right=True, labelsize=14)
    ax.tick_params(which="major", length=7, width=1)
    ax.tick_params(which="minor", length=3.5, width=0.8)
    for sp in ax.spines.values():
        sp.set_linewidth(1.0)
    ax.set_xlabel("")
    ax.set_ylabel("")

for ax in axes[0]:
    ax.tick_params(labeltop=True, labelbottom=False)
for ax in axes[-1]:
    ax.set_xlabel(r"$\log_{10}\,(L/\mathrm{L}_\odot)$", fontsize=14)
for ax in axes[:, 0]:
    ax.set_ylabel(r"$\Phi\,[\mathrm{cMpc}^{-3}\mathrm{dex}^{-1}]$", fontsize=14)


def marker_handle(key):
    color, marker, ms, label = obs_style[key]
    return Line2D([], [], ls="none", marker=marker, color=color, ms=13, mew=0, label=label)


leg_kw = dict(loc="lower left", frameon=False, fontsize=15, labelspacing=0.5, borderaxespad=0.3)
axes[0, 0].legend(handles=[Line2D([], [], color=C100, lw=3, label="TNG100"),
                           Line2D([], [], color=C50, lw=3, label="TNG50")],
                  handlelength=2.4, handletextpad=0.6, bbox_to_anchor=(0.01, 0.02), **leg_kw)
axes[0, 1].legend(handles=[marker_handle(k) for k in ["budavari", "wyder", "driver"]],
                  handletextpad=0.7, bbox_to_anchor=(0.01, 0.02), **leg_kw)
axes[2, 1].legend(handles=[marker_handle(k) for k in ["hill", "loveday"]],
                  handletextpad=0.7, bbox_to_anchor=(0.01, 0.02), **leg_kw)
axes[4, 2].legend(handles=[marker_handle(k) for k in ["dunne", "negrello", "marchetti"]],
                  handletextpad=0.7, bbox_to_anchor=(0.0, 0.02), **leg_kw)

fig.savefig("out.png", dpi=100)
